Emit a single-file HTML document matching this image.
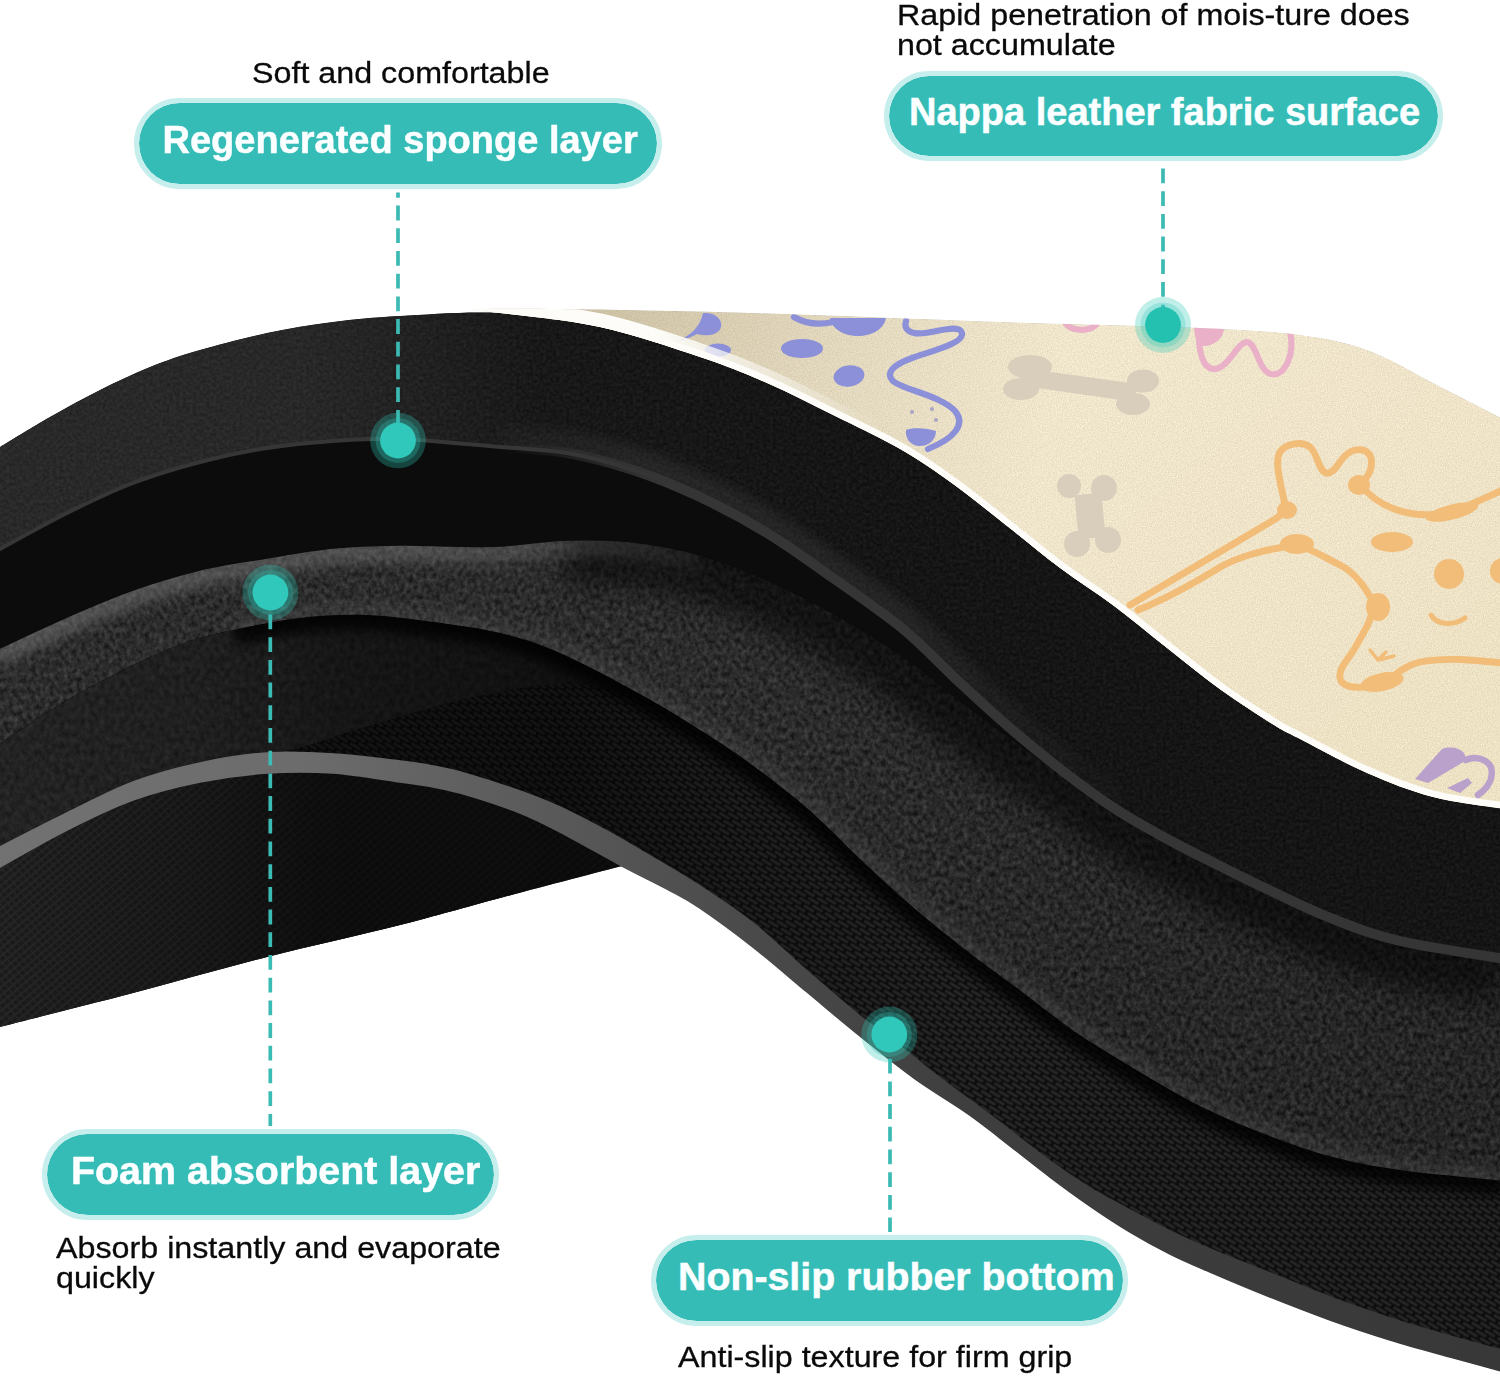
<!DOCTYPE html>
<html><head><meta charset="utf-8"><title>Mat layers</title>
<style>
html,body{margin:0;padding:0;background:#fff;}
body{width:1500px;height:1377px;position:relative;overflow:hidden;font-family:"Liberation Sans",sans-serif;}
svg{position:absolute;left:0;top:0;}
.pill{position:absolute;box-sizing:border-box;background:#35bcb6;border:5px solid #c6eeec;border-radius:50px;background-clip:padding-box;}
.pill span{position:absolute;left:0;top:0;white-space:nowrap;color:#fbffff;font-weight:bold;font-size:38px;line-height:38px;transform-origin:0 0;-webkit-text-stroke:0.5px #fbffff;}
.sub{position:absolute;white-space:nowrap;color:#0a0a0a;font-size:30px;line-height:30px;transform-origin:0 0;transform:scaleX(1.075);-webkit-text-stroke:0.3px #0a0a0a;}
</style></head><body>
<svg width="1500" height="1377" viewBox="0 0 1500 1377">
<defs>
  <filter id="nFoam" color-interpolation-filters="sRGB" x="0" y="0" width="100%" height="100%">
    <feTurbulence type="fractalNoise" baseFrequency="0.22 0.18" numOctaves="3" seed="7"/>
    <feColorMatrix type="matrix" values="1 0 0 0 0  1 0 0 0 0  1 0 0 0 0  0 0 0 0 1" result="g"/>
    <feComposite in="SourceGraphic" in2="g" operator="arithmetic" k1="0" k2="1" k3="0.26" k4="-0.125" result="m"/>
    <feComposite in="m" in2="SourceGraphic" operator="in"/>
  </filter>
  <filter id="nFoam2" color-interpolation-filters="sRGB" x="0" y="0" width="100%" height="100%">
    <feTurbulence type="fractalNoise" baseFrequency="0.2 0.16" numOctaves="3" seed="21"/>
    <feColorMatrix type="matrix" values="1 0 0 0 0  1 0 0 0 0  1 0 0 0 0  0 0 0 0 1" result="g"/>
    <feComposite in="SourceGraphic" in2="g" operator="arithmetic" k1="0.9" k2="0.55" k3="0" k4="0" result="m"/>
    <feComposite in="m" in2="SourceGraphic" operator="in"/>
  </filter>
  <filter id="nFine" color-interpolation-filters="sRGB" x="0" y="0" width="100%" height="100%">
    <feTurbulence type="fractalNoise" baseFrequency="0.8" numOctaves="2" seed="3"/>
    <feColorMatrix type="matrix" values="1 0 0 0 0  1 0 0 0 0  1 0 0 0 0  0 0 0 0 1" result="g"/>
    <feComposite in="SourceGraphic" in2="g" operator="arithmetic" k1="0" k2="1" k3="0.16" k4="-0.08" result="m"/>
    <feComposite in="m" in2="SourceGraphic" operator="in"/>
  </filter>
  <filter id="nSoft" color-interpolation-filters="sRGB" x="0" y="0" width="100%" height="100%">
    <feTurbulence type="fractalNoise" baseFrequency="0.3" numOctaves="2" seed="11"/>
    <feColorMatrix type="matrix" values="1 0 0 0 0  1 0 0 0 0  1 0 0 0 0  0 0 0 0 1" result="g"/>
    <feComposite in="SourceGraphic" in2="g" operator="arithmetic" k1="0" k2="1" k3="0.10" k4="-0.05" result="m"/>
    <feComposite in="m" in2="SourceGraphic" operator="in"/>
  </filter>
  <filter id="blur6" x="-20%" y="-20%" width="140%" height="140%"><feGaussianBlur stdDeviation="6"/></filter>
  <filter id="blur14" x="-30%" y="-30%" width="160%" height="160%"><feGaussianBlur stdDeviation="14"/></filter>
  <filter id="blur1"><feGaussianBlur stdDeviation="0.7"/></filter>
  <linearGradient id="gSponge" gradientUnits="userSpaceOnUse" x1="0" y1="0" x2="1500" y2="0">
    <stop offset="0" stop-color="#292929"/><stop offset="0.2" stop-color="#282828"/><stop offset="0.28" stop-color="#212121"/><stop offset="0.36" stop-color="#181818"/><stop offset="0.6" stop-color="#151515"/><stop offset="1" stop-color="#151515"/>
  </linearGradient>
  <linearGradient id="gFoam" gradientUnits="userSpaceOnUse" x1="0" y1="600" x2="1500" y2="1100">
    <stop offset="0" stop-color="#2b2b2b"/><stop offset="0.3" stop-color="#2b2b2b"/><stop offset="0.5" stop-color="#2a2a2a"/><stop offset="0.75" stop-color="#262626"/><stop offset="1" stop-color="#242424"/>
  </linearGradient>
  <linearGradient id="gFoamUnder" gradientUnits="userSpaceOnUse" x1="0" y1="0" x2="800" y2="0">
    <stop offset="0" stop-color="#232323"/><stop offset="0.25" stop-color="#1f1f1f"/><stop offset="0.42" stop-color="#161616"/><stop offset="0.7" stop-color="#101010"/><stop offset="1" stop-color="#0e0e0e"/>
  </linearGradient>
  <linearGradient id="gRibShade" gradientUnits="userSpaceOnUse" x1="300" y1="0" x2="1500" y2="0">
    <stop offset="0" stop-color="#000" stop-opacity="0.55"/><stop offset="0.22" stop-color="#000" stop-opacity="0.55"/><stop offset="0.36" stop-color="#000" stop-opacity="0.3"/><stop offset="0.55" stop-color="#000" stop-opacity="0.12"/><stop offset="1" stop-color="#000" stop-opacity="0.15"/>
  </linearGradient>
  <linearGradient id="gUnder" gradientUnits="userSpaceOnUse" x1="0" y1="0" x2="640" y2="0">
    <stop offset="0" stop-color="#000" stop-opacity="0.05"/><stop offset="0.3" stop-color="#000" stop-opacity="0.3"/><stop offset="0.5" stop-color="#000" stop-opacity="0.6"/><stop offset="1" stop-color="#000" stop-opacity="0.65"/>
  </linearGradient>
  <linearGradient id="gHl" gradientUnits="userSpaceOnUse" x1="500" y1="0" x2="660" y2="0">
    <stop offset="0" stop-color="#383838" stop-opacity="0"/><stop offset="1" stop-color="#353535" stop-opacity="1"/>
  </linearGradient>
  <linearGradient id="gCreamShade" gradientUnits="userSpaceOnUse" x1="560" y1="300" x2="1050" y2="420">
    <stop offset="0" stop-color="#6e5a32" stop-opacity="0.3"/><stop offset="0.5" stop-color="#6e5a32" stop-opacity="0.13"/><stop offset="1" stop-color="#6e5a32" stop-opacity="0"/>
  </linearGradient>
  <linearGradient id="gFoamHl" gradientUnits="userSpaceOnUse" x1="0" y1="0" x2="760" y2="0">
    <stop offset="0" stop-color="#8a8a8a" stop-opacity="0.4"/><stop offset="0.55" stop-color="#8a8a8a" stop-opacity="0.36"/><stop offset="0.8" stop-color="#8a8a8a" stop-opacity="0.2"/><stop offset="1" stop-color="#8a8a8a" stop-opacity="0"/>
  </linearGradient>
  <linearGradient id="gGlow" gradientUnits="userSpaceOnUse" x1="450" y1="0" x2="1150" y2="0">
    <stop offset="0" stop-color="#4a4a4a" stop-opacity="0.05"/><stop offset="0.3" stop-color="#4a4a4a" stop-opacity="0.3"/><stop offset="0.65" stop-color="#4a4a4a" stop-opacity="0.28"/><stop offset="1" stop-color="#4a4a4a" stop-opacity="0"/>
  </linearGradient>
  <linearGradient id="gWedge" gradientUnits="userSpaceOnUse" x1="500" y1="0" x2="880" y2="0">
    <stop offset="0" stop-color="#fdfcf8" stop-opacity="1"/><stop offset="0.4" stop-color="#fdfcf8" stop-opacity="1"/><stop offset="0.75" stop-color="#fdfcf8" stop-opacity="0.45"/><stop offset="1" stop-color="#fdfcf8" stop-opacity="0"/>
  </linearGradient>
  <linearGradient id="gBand" gradientUnits="userSpaceOnUse" x1="0" y1="0" x2="1500" y2="0">
    <stop offset="0" stop-color="#727272"/><stop offset="0.2" stop-color="#6c6c6c"/><stop offset="0.36" stop-color="#5a5a5a"/><stop offset="0.5" stop-color="#4a4a4a"/><stop offset="0.65" stop-color="#3e3e3e"/><stop offset="1" stop-color="#383838"/>
  </linearGradient>
  <linearGradient id="gCream" gradientUnits="userSpaceOnUse" x1="900" y1="300" x2="1300" y2="800">
    <stop offset="0" stop-color="#f1e8cf"/><stop offset="1" stop-color="#eee2c5"/>
  </linearGradient>
  <pattern id="rib" width="15" height="9" patternUnits="userSpaceOnUse" patternTransform="rotate(31)">
    <rect width="15" height="9" fill="#0f0f0f"/>
    <path d="M1.5 2.2 L11 2.2 M9 6.7 L18.5 6.7 M-6 6.7 L3.5 6.7" stroke="#2b2b2b" stroke-width="2.9" stroke-linecap="round"/>
  </pattern>
  <pattern id="rib2" width="7" height="4" patternUnits="userSpaceOnUse" patternTransform="rotate(-32)">
    <rect width="7" height="4" fill="#151515"/>
    <path d="M0.5 2 L5.5 2" stroke="#262626" stroke-width="1.6" stroke-linecap="round"/>
  </pattern>
  <pattern id="hatch" width="6" height="6" patternUnits="userSpaceOnUse" patternTransform="rotate(-40)">
    <rect width="6" height="6" fill="#1c1c1c"/>
    <path d="M0 1 H6" stroke="#2b2b2b" stroke-width="1.5"/><path d="M1 0 V6" stroke="#282828" stroke-width="1.3"/>
  </pattern>
  <clipPath id="cCream"><path d="M470.0 309.0C485.0 309.0 513.3 308.3 560.0 309.0C606.7 309.7 676.7 310.8 750.0 313.0C823.3 315.2 925.0 319.5 1000.0 322.0C1075.0 324.5 1150.0 325.8 1200.0 328.0C1250.0 330.2 1272.2 331.3 1300.0 335.0C1327.8 338.7 1344.8 342.0 1367.0 350.0C1389.2 358.0 1410.0 371.3 1433.0 383.0C1456.0 394.7 1493.0 413.8 1505.0 420.0L1505.0 809.0C1493.0 807.0 1456.0 803.0 1433.0 797.0C1410.0 791.0 1389.2 782.7 1367.0 773.0C1344.8 763.3 1315.5 747.0 1300.0 739.0C1284.5 731.0 1287.2 733.2 1274.0 725.0C1260.8 716.8 1238.8 702.8 1221.0 690.0C1203.2 677.2 1184.8 662.0 1167.0 648.0C1149.2 634.0 1131.8 619.3 1114.0 606.0C1096.2 592.7 1077.8 581.3 1060.0 568.0C1042.2 554.7 1024.8 540.0 1007.0 526.0C989.2 512.0 970.8 496.8 953.0 484.0C935.2 471.2 920.0 460.5 900.0 449.0C880.0 437.5 855.2 426.0 833.0 415.0C810.8 404.0 789.2 392.7 767.0 383.0C744.8 373.3 727.8 366.3 700.0 357.0C672.2 347.7 633.3 334.3 600.0 327.0C566.7 319.7 521.7 315.7 500.0 313.0C478.3 310.3 475.0 311.3 470.0 311.0Z"/></clipPath>
  <clipPath id="cBelow"><path d="M-5.0 746.0C-4.2 745.5 -12.0 750.7 0.0 743.0C12.0 735.3 44.8 713.0 67.0 700.0C89.2 687.0 113.0 674.7 133.0 665.0C153.0 655.3 170.3 647.8 187.0 642.0C203.7 636.2 214.2 634.0 233.0 630.0C251.8 626.0 277.7 620.5 300.0 618.0C322.3 615.5 344.8 614.3 367.0 615.0C389.2 615.7 410.8 619.0 433.0 622.0C455.2 625.0 478.8 627.8 500.0 633.0C521.2 638.2 536.7 642.8 560.0 653.0C583.3 663.2 616.7 681.2 640.0 694.0C663.3 706.8 682.0 718.7 700.0 730.0C718.0 741.3 730.2 749.0 748.0 762.0C765.8 775.0 788.3 791.8 807.0 808.0C825.7 824.2 842.2 842.3 860.0 859.0C877.8 875.7 896.2 892.7 914.0 908.0C931.8 923.3 949.2 937.2 967.0 951.0C984.8 964.8 1003.2 977.7 1021.0 991.0C1038.8 1004.3 1055.3 1018.2 1074.0 1031.0C1092.7 1043.8 1112.0 1055.5 1133.0 1068.0C1154.0 1080.5 1177.7 1094.8 1200.0 1106.0C1222.3 1117.2 1244.8 1126.5 1267.0 1135.0C1289.2 1143.5 1310.8 1151.2 1333.0 1157.0C1355.2 1162.8 1371.3 1166.0 1400.0 1170.0C1428.7 1174.0 1487.5 1179.2 1505.0 1181.0L1505.0 1351.0C1495.8 1348.5 1469.2 1341.5 1450.0 1336.0C1430.8 1330.5 1410.0 1324.5 1390.0 1318.0C1370.0 1311.5 1350.0 1304.5 1330.0 1297.0C1310.0 1289.5 1290.0 1281.0 1270.0 1273.0C1250.0 1265.0 1226.7 1256.0 1210.0 1249.0C1193.3 1242.0 1183.3 1237.5 1170.0 1231.0C1156.7 1224.5 1143.3 1217.2 1130.0 1210.0C1116.7 1202.8 1103.3 1196.2 1090.0 1188.0C1076.7 1179.8 1066.0 1172.7 1050.0 1161.0C1034.0 1149.3 1012.3 1131.8 994.0 1118.0C975.7 1104.2 954.0 1088.7 940.0 1078.0C926.0 1067.3 923.3 1064.3 910.0 1054.0C896.7 1043.7 877.2 1029.8 860.0 1016.0C842.8 1002.2 824.8 986.5 807.0 971.0C789.2 955.5 770.8 937.2 753.0 923.0C735.2 908.8 718.8 898.2 700.0 886.0C681.2 873.8 655.5 859.2 640.0 850.0C624.5 840.8 620.3 838.2 607.0 831.0C593.7 823.8 574.5 813.7 560.0 807.0C545.5 800.3 535.5 796.5 520.0 791.0C504.5 785.5 481.5 778.2 467.0 774.0C452.5 769.8 444.2 768.2 433.0 766.0C421.8 763.8 416.7 763.0 400.0 761.0C383.3 759.0 355.2 755.3 333.0 754.0C310.8 752.7 289.2 751.5 267.0 753.0C244.8 754.5 222.3 758.2 200.0 763.0C177.7 767.8 155.2 773.7 133.0 782.0C110.8 790.3 89.2 802.2 67.0 813.0C44.8 823.8 12.0 840.8 0.0 847.0C-12.0 853.2 -4.2 849.5 -5.0 850.0Z"/></clipPath>
  <clipPath id="cFoam"><path d="M-5.0 651.0C-4.2 650.5 -12.0 653.7 0.0 648.0C12.0 642.3 44.8 626.7 67.0 617.0C89.2 607.3 110.8 597.8 133.0 590.0C155.2 582.2 177.7 575.3 200.0 570.0C222.3 564.7 244.8 561.7 267.0 558.0C289.2 554.3 310.8 550.2 333.0 548.0C355.2 545.8 380.5 545.3 400.0 545.0C419.5 544.7 433.3 545.8 450.0 546.0C466.7 546.2 480.5 547.0 500.0 546.0C519.5 545.0 544.8 540.7 567.0 540.0C589.2 539.3 610.8 539.5 633.0 542.0C655.2 544.5 677.7 548.7 700.0 555.0C722.3 561.3 744.8 570.3 767.0 580.0C789.2 589.7 810.8 600.7 833.0 613.0C855.2 625.3 879.3 639.8 900.0 654.0C920.7 668.2 938.7 684.0 957.0 698.0C975.3 712.0 992.2 725.7 1010.0 738.0C1027.8 750.3 1046.2 760.0 1064.0 772.0C1081.8 784.0 1099.2 798.5 1117.0 810.0C1134.8 821.5 1153.2 831.3 1171.0 841.0C1188.8 850.7 1208.0 860.0 1224.0 868.0C1240.0 876.0 1248.8 880.5 1267.0 889.0C1285.2 897.5 1310.8 910.3 1333.0 919.0C1355.2 927.7 1371.3 934.3 1400.0 941.0C1428.7 947.7 1487.5 956.0 1505.0 959.0L1505.0 1181.0C1487.5 1179.2 1428.7 1174.0 1400.0 1170.0C1371.3 1166.0 1355.2 1162.8 1333.0 1157.0C1310.8 1151.2 1289.2 1143.5 1267.0 1135.0C1244.8 1126.5 1222.3 1117.2 1200.0 1106.0C1177.7 1094.8 1154.0 1080.5 1133.0 1068.0C1112.0 1055.5 1092.7 1043.8 1074.0 1031.0C1055.3 1018.2 1038.8 1004.3 1021.0 991.0C1003.2 977.7 984.8 964.8 967.0 951.0C949.2 937.2 931.8 923.3 914.0 908.0C896.2 892.7 877.8 875.7 860.0 859.0C842.2 842.3 825.7 824.2 807.0 808.0C788.3 791.8 765.8 775.0 748.0 762.0C730.2 749.0 718.0 741.3 700.0 730.0C682.0 718.7 663.3 706.8 640.0 694.0C616.7 681.2 583.3 663.2 560.0 653.0C536.7 642.8 521.2 638.2 500.0 633.0C478.8 627.8 455.2 625.0 433.0 622.0C410.8 619.0 389.2 615.7 367.0 615.0C344.8 614.3 322.3 615.5 300.0 618.0C277.7 620.5 251.8 626.0 233.0 630.0C214.2 634.0 203.7 636.2 187.0 642.0C170.3 647.8 153.0 655.3 133.0 665.0C113.0 674.7 89.2 687.0 67.0 700.0C44.8 713.0 12.0 735.3 0.0 743.0C-12.0 750.7 -4.2 745.5 -5.0 746.0Z"/></clipPath>
  <clipPath id="cSponge"><path d="M-5.0 450.0C-4.2 449.5 -9.2 452.5 0.0 447.0C9.2 441.5 33.3 426.5 50.0 417.0C66.7 407.5 83.3 398.3 100.0 390.0C116.7 381.7 133.3 373.7 150.0 367.0C166.7 360.3 180.5 355.7 200.0 350.0C219.5 344.3 244.8 337.7 267.0 333.0C289.2 328.3 310.8 324.8 333.0 322.0C355.2 319.2 372.2 317.5 400.0 316.0C427.8 314.5 466.7 311.2 500.0 313.0C533.3 314.8 566.7 319.7 600.0 327.0C633.3 334.3 672.2 347.7 700.0 357.0C727.8 366.3 744.8 373.3 767.0 383.0C789.2 392.7 810.8 404.0 833.0 415.0C855.2 426.0 880.0 437.5 900.0 449.0C920.0 460.5 935.2 471.2 953.0 484.0C970.8 496.8 989.2 512.0 1007.0 526.0C1024.8 540.0 1042.2 554.7 1060.0 568.0C1077.8 581.3 1096.2 592.7 1114.0 606.0C1131.8 619.3 1149.2 634.0 1167.0 648.0C1184.8 662.0 1203.2 677.2 1221.0 690.0C1238.8 702.8 1260.8 716.8 1274.0 725.0C1287.2 733.2 1284.5 731.0 1300.0 739.0C1315.5 747.0 1344.8 763.3 1367.0 773.0C1389.2 782.7 1410.0 791.0 1433.0 797.0C1456.0 803.0 1493.0 807.0 1505.0 809.0L1505.0 959.0C1487.5 956.0 1428.7 947.7 1400.0 941.0C1371.3 934.3 1355.2 927.7 1333.0 919.0C1310.8 910.3 1285.2 897.5 1267.0 889.0C1248.8 880.5 1240.0 876.0 1224.0 868.0C1208.0 860.0 1188.8 850.7 1171.0 841.0C1153.2 831.3 1134.8 821.5 1117.0 810.0C1099.2 798.5 1081.8 785.7 1064.0 772.0C1046.2 758.3 1027.8 743.3 1010.0 728.0C992.2 712.7 974.8 696.5 957.0 680.0C939.2 663.5 923.7 646.0 903.0 629.0C882.3 612.0 855.7 594.0 833.0 578.0C810.3 562.0 789.2 546.5 767.0 533.0C744.8 519.5 722.3 507.5 700.0 497.0C677.7 486.5 655.2 477.3 633.0 470.0C610.8 462.7 589.2 456.8 567.0 453.0C544.8 449.2 527.8 449.3 500.0 447.0C472.2 444.7 427.8 440.0 400.0 439.0C372.2 438.0 355.2 439.5 333.0 441.0C310.8 442.5 289.2 444.5 267.0 448.0C244.8 451.5 222.3 456.2 200.0 462.0C177.7 467.8 155.2 474.5 133.0 483.0C110.8 491.5 89.2 502.0 67.0 513.0C44.8 524.0 12.0 542.5 0.0 549.0C-12.0 555.5 -4.2 551.5 -5.0 552.0Z"/></clipPath>
</defs>

<path d="M-5.0 450.0C-4.2 449.5 -9.2 452.5 0.0 447.0C9.2 441.5 33.3 426.5 50.0 417.0C66.7 407.5 83.3 398.3 100.0 390.0C116.7 381.7 133.3 373.7 150.0 367.0C166.7 360.3 180.5 355.7 200.0 350.0C219.5 344.3 244.8 337.7 267.0 333.0C289.2 328.3 310.8 324.8 333.0 322.0C355.2 319.2 372.2 317.5 400.0 316.0C427.8 314.5 466.7 311.2 500.0 313.0C533.3 314.8 566.7 319.7 600.0 327.0C633.3 334.3 672.2 347.7 700.0 357.0C727.8 366.3 744.8 373.3 767.0 383.0C789.2 392.7 810.8 404.0 833.0 415.0C855.2 426.0 880.0 437.5 900.0 449.0C920.0 460.5 935.2 471.2 953.0 484.0C970.8 496.8 989.2 512.0 1007.0 526.0C1024.8 540.0 1042.2 554.7 1060.0 568.0C1077.8 581.3 1096.2 592.7 1114.0 606.0C1131.8 619.3 1149.2 634.0 1167.0 648.0C1184.8 662.0 1203.2 677.2 1221.0 690.0C1238.8 702.8 1260.8 716.8 1274.0 725.0C1287.2 733.2 1284.5 731.0 1300.0 739.0C1315.5 747.0 1344.8 763.3 1367.0 773.0C1389.2 782.7 1410.0 791.0 1433.0 797.0C1456.0 803.0 1493.0 807.0 1505.0 809.0L1505.0 1372.0C1495.8 1369.5 1469.2 1362.3 1450.0 1357.0C1430.8 1351.7 1410.0 1346.2 1390.0 1340.0C1370.0 1333.8 1350.0 1327.2 1330.0 1320.0C1310.0 1312.8 1290.0 1305.0 1270.0 1297.0C1250.0 1289.0 1226.7 1279.2 1210.0 1272.0C1193.3 1264.8 1183.3 1260.7 1170.0 1254.0C1156.7 1247.3 1143.3 1240.0 1130.0 1232.0C1116.7 1224.0 1103.3 1215.2 1090.0 1206.0C1076.7 1196.8 1065.0 1188.3 1050.0 1177.0C1035.0 1165.7 1013.8 1148.7 1000.0 1138.0C986.2 1127.3 981.3 1123.0 967.0 1113.0C952.7 1103.0 931.8 1090.8 914.0 1078.0C896.2 1065.2 877.8 1050.3 860.0 1036.0C842.2 1021.7 824.8 1006.8 807.0 992.0C789.2 977.2 770.8 961.0 753.0 947.0C735.2 933.0 714.3 917.7 700.0 908.0C685.7 898.3 680.0 896.0 667.0 889.0C654.0 882.0 649.8 864.5 622.0 866.0C594.2 867.5 537.0 888.2 500.0 898.0C463.0 907.8 438.8 915.2 400.0 925.0C361.2 934.8 311.5 945.7 267.0 957.0C222.5 968.3 177.5 981.3 133.0 993.0C88.5 1004.7 23.0 1021.0 0.0 1027.0C-23.0 1033.0 -4.2 1028.7 -5.0 1029.0Z" fill="#181818"/>
<!-- rubber underside (left bottom) -->
<path d="M-5.0 870.0C-4.2 869.5 -12.0 873.7 0.0 867.0C12.0 860.3 44.8 841.2 67.0 830.0C89.2 818.8 110.8 808.0 133.0 800.0C155.2 792.0 177.7 786.5 200.0 782.0C222.3 777.5 244.8 774.5 267.0 773.0C289.2 771.5 310.8 771.5 333.0 773.0C355.2 774.5 383.3 779.7 400.0 782.0C416.7 784.3 421.8 784.8 433.0 787.0C444.2 789.2 452.5 790.7 467.0 795.0C481.5 799.3 504.5 806.8 520.0 813.0C535.5 819.2 543.0 823.2 560.0 832.0C577.0 840.8 611.7 860.3 622.0 866.0L622.0 866.0C601.7 871.3 537.0 888.2 500.0 898.0C463.0 907.8 438.8 915.2 400.0 925.0C361.2 934.8 311.5 945.7 267.0 957.0C222.5 968.3 177.5 981.3 133.0 993.0C88.5 1004.7 23.0 1021.0 0.0 1027.0C-23.0 1033.0 -4.2 1028.7 -5.0 1029.0Z" fill="url(#hatch)"/>
<path d="M-5.0 870.0C-4.2 869.5 -12.0 873.7 0.0 867.0C12.0 860.3 44.8 841.2 67.0 830.0C89.2 818.8 110.8 808.0 133.0 800.0C155.2 792.0 177.7 786.5 200.0 782.0C222.3 777.5 244.8 774.5 267.0 773.0C289.2 771.5 310.8 771.5 333.0 773.0C355.2 774.5 383.3 779.7 400.0 782.0C416.7 784.3 421.8 784.8 433.0 787.0C444.2 789.2 452.5 790.7 467.0 795.0C481.5 799.3 504.5 806.8 520.0 813.0C535.5 819.2 543.0 823.2 560.0 832.0C577.0 840.8 611.7 860.3 622.0 866.0L622.0 866.0C601.7 871.3 537.0 888.2 500.0 898.0C463.0 907.8 438.8 915.2 400.0 925.0C361.2 934.8 311.5 945.7 267.0 957.0C222.5 968.3 177.5 981.3 133.0 993.0C88.5 1004.7 23.0 1021.0 0.0 1027.0C-23.0 1033.0 -4.2 1028.7 -5.0 1029.0Z" fill="url(#gUnder)"/>
<!-- area between foam and rubber band: foam underside + ribbed rubber top -->
<g clip-path="url(#cBelow)">
  <path d="M-5.0 746.0C-4.2 745.5 -12.0 750.7 0.0 743.0C12.0 735.3 44.8 713.0 67.0 700.0C89.2 687.0 113.0 674.7 133.0 665.0C153.0 655.3 170.3 647.8 187.0 642.0C203.7 636.2 214.2 634.0 233.0 630.0C251.8 626.0 277.7 620.5 300.0 618.0C322.3 615.5 344.8 614.3 367.0 615.0C389.2 615.7 410.8 619.0 433.0 622.0C455.2 625.0 478.8 627.8 500.0 633.0C521.2 638.2 536.7 642.8 560.0 653.0C583.3 663.2 616.7 681.2 640.0 694.0C663.3 706.8 682.0 718.7 700.0 730.0C718.0 741.3 730.2 749.0 748.0 762.0C765.8 775.0 788.3 791.8 807.0 808.0C825.7 824.2 842.2 842.3 860.0 859.0C877.8 875.7 896.2 892.7 914.0 908.0C931.8 923.3 949.2 937.2 967.0 951.0C984.8 964.8 1003.2 977.7 1021.0 991.0C1038.8 1004.3 1055.3 1018.2 1074.0 1031.0C1092.7 1043.8 1112.0 1055.5 1133.0 1068.0C1154.0 1080.5 1177.7 1094.8 1200.0 1106.0C1222.3 1117.2 1244.8 1126.5 1267.0 1135.0C1289.2 1143.5 1310.8 1151.2 1333.0 1157.0C1355.2 1162.8 1371.3 1166.0 1400.0 1170.0C1428.7 1174.0 1487.5 1179.2 1505.0 1181.0L1505.0 1351.0C1495.8 1348.5 1469.2 1341.5 1450.0 1336.0C1430.8 1330.5 1410.0 1324.5 1390.0 1318.0C1370.0 1311.5 1350.0 1304.5 1330.0 1297.0C1310.0 1289.5 1290.0 1281.0 1270.0 1273.0C1250.0 1265.0 1226.7 1256.0 1210.0 1249.0C1193.3 1242.0 1183.3 1237.5 1170.0 1231.0C1156.7 1224.5 1143.3 1217.2 1130.0 1210.0C1116.7 1202.8 1103.3 1196.2 1090.0 1188.0C1076.7 1179.8 1066.0 1172.7 1050.0 1161.0C1034.0 1149.3 1012.3 1131.8 994.0 1118.0C975.7 1104.2 954.0 1088.7 940.0 1078.0C926.0 1067.3 923.3 1064.3 910.0 1054.0C896.7 1043.7 877.2 1029.8 860.0 1016.0C842.8 1002.2 824.8 986.5 807.0 971.0C789.2 955.5 770.8 937.2 753.0 923.0C735.2 908.8 718.8 898.2 700.0 886.0C681.2 873.8 655.5 859.2 640.0 850.0C624.5 840.8 620.3 838.2 607.0 831.0C593.7 823.8 574.5 813.7 560.0 807.0C545.5 800.3 535.5 796.5 520.0 791.0C504.5 785.5 481.5 778.2 467.0 774.0C452.5 769.8 444.2 768.2 433.0 766.0C421.8 763.8 416.7 763.0 400.0 761.0C383.3 759.0 355.2 755.3 333.0 754.0C310.8 752.7 289.2 751.5 267.0 753.0C244.8 754.5 222.3 758.2 200.0 763.0C177.7 767.8 155.2 773.7 133.0 782.0C110.8 790.3 89.2 802.2 67.0 813.0C44.8 823.8 12.0 840.8 0.0 847.0C-12.0 853.2 -4.2 849.5 -5.0 850.0Z" fill="url(#rib)"/>
  <path d="M-5.0 746.0C-4.2 745.5 -12.0 750.7 0.0 743.0C12.0 735.3 44.8 713.0 67.0 700.0C89.2 687.0 113.0 674.7 133.0 665.0C153.0 655.3 170.3 647.8 187.0 642.0C203.7 636.2 214.2 634.0 233.0 630.0C251.8 626.0 277.7 620.5 300.0 618.0C322.3 615.5 344.8 614.3 367.0 615.0C389.2 615.7 410.8 619.0 433.0 622.0C455.2 625.0 478.8 627.8 500.0 633.0C521.2 638.2 536.7 642.8 560.0 653.0C583.3 663.2 616.7 681.2 640.0 694.0C663.3 706.8 682.0 718.7 700.0 730.0C718.0 741.3 730.2 749.0 748.0 762.0C765.8 775.0 788.3 791.8 807.0 808.0C825.7 824.2 842.2 842.3 860.0 859.0C877.8 875.7 896.2 892.7 914.0 908.0C931.8 923.3 949.2 937.2 967.0 951.0C984.8 964.8 1003.2 977.7 1021.0 991.0C1038.8 1004.3 1055.3 1018.2 1074.0 1031.0C1092.7 1043.8 1112.0 1055.5 1133.0 1068.0C1154.0 1080.5 1177.7 1094.8 1200.0 1106.0C1222.3 1117.2 1244.8 1126.5 1267.0 1135.0C1289.2 1143.5 1310.8 1151.2 1333.0 1157.0C1355.2 1162.8 1371.3 1166.0 1400.0 1170.0C1428.7 1174.0 1487.5 1179.2 1505.0 1181.0L1505.0 1351.0C1495.8 1348.5 1469.2 1341.5 1450.0 1336.0C1430.8 1330.5 1410.0 1324.5 1390.0 1318.0C1370.0 1311.5 1350.0 1304.5 1330.0 1297.0C1310.0 1289.5 1290.0 1281.0 1270.0 1273.0C1250.0 1265.0 1226.7 1256.0 1210.0 1249.0C1193.3 1242.0 1183.3 1237.5 1170.0 1231.0C1156.7 1224.5 1143.3 1217.2 1130.0 1210.0C1116.7 1202.8 1103.3 1196.2 1090.0 1188.0C1076.7 1179.8 1066.0 1172.7 1050.0 1161.0C1034.0 1149.3 1012.3 1131.8 994.0 1118.0C975.7 1104.2 954.0 1088.7 940.0 1078.0C926.0 1067.3 923.3 1064.3 910.0 1054.0C896.7 1043.7 877.2 1029.8 860.0 1016.0C842.8 1002.2 824.8 986.5 807.0 971.0C789.2 955.5 770.8 937.2 753.0 923.0C735.2 908.8 718.8 898.2 700.0 886.0C681.2 873.8 655.5 859.2 640.0 850.0C624.5 840.8 620.3 838.2 607.0 831.0C593.7 823.8 574.5 813.7 560.0 807.0C545.5 800.3 535.5 796.5 520.0 791.0C504.5 785.5 481.5 778.2 467.0 774.0C452.5 769.8 444.2 768.2 433.0 766.0C421.8 763.8 416.7 763.0 400.0 761.0C383.3 759.0 355.2 755.3 333.0 754.0C310.8 752.7 289.2 751.5 267.0 753.0C244.8 754.5 222.3 758.2 200.0 763.0C177.7 767.8 155.2 773.7 133.0 782.0C110.8 790.3 89.2 802.2 67.0 813.0C44.8 823.8 12.0 840.8 0.0 847.0C-12.0 853.2 -4.2 849.5 -5.0 850.0Z" fill="url(#gRibShade)"/>
  <!-- foam underside (textured, in shadow) -->
  <path d="M-5.0 746.0C-4.2 745.5 -12.0 750.7 0.0 743.0C12.0 735.3 44.8 713.0 67.0 700.0C89.2 687.0 113.0 674.7 133.0 665.0C153.0 655.3 170.3 647.8 187.0 642.0C203.7 636.2 214.2 634.0 233.0 630.0C251.8 626.0 277.7 620.5 300.0 618.0C322.3 615.5 344.8 614.3 367.0 615.0C389.2 615.7 410.8 619.0 433.0 622.0C455.2 625.0 478.8 627.8 500.0 633.0C521.2 638.2 536.7 642.8 560.0 653.0C583.3 663.2 616.7 681.2 640.0 694.0C663.3 706.8 682.0 718.7 700.0 730.0C718.0 741.3 730.2 749.0 748.0 762.0C765.8 775.0 797.2 800.3 807.0 808.0L807.0 808.0C799.2 802.0 779.0 786.3 760.0 772.0C741.0 757.7 721.8 736.5 693.0 722.0C664.2 707.5 622.5 689.3 587.0 685.0C551.5 680.7 515.7 689.3 480.0 696.0C444.3 702.7 403.2 716.3 373.0 725.0C342.8 733.7 316.7 743.3 299.0 748.0C281.3 752.7 283.5 750.5 267.0 753.0C250.5 755.5 222.3 758.2 200.0 763.0C177.7 767.8 155.2 773.7 133.0 782.0C110.8 790.3 89.2 802.2 67.0 813.0C44.8 823.8 12.0 840.8 0.0 847.0C-12.0 853.2 -4.2 849.5 -5.0 850.0Z" fill="url(#gFoamUnder)" filter="url(#nFoam2)"/>
  <!-- shadow under foam along its lower edge -->
  <path d="M233.0 630.0C244.2 628.0 277.7 620.5 300.0 618.0C322.3 615.5 344.8 614.3 367.0 615.0C389.2 615.7 410.8 619.0 433.0 622.0C455.2 625.0 478.8 627.8 500.0 633.0C521.2 638.2 536.7 642.8 560.0 653.0C583.3 663.2 616.7 681.2 640.0 694.0C663.3 706.8 682.0 718.7 700.0 730.0C718.0 741.3 730.2 749.0 748.0 762.0C765.8 775.0 788.3 791.8 807.0 808.0C825.7 824.2 842.2 842.3 860.0 859.0C877.8 875.7 896.2 892.7 914.0 908.0C931.8 923.3 949.2 937.2 967.0 951.0C984.8 964.8 1003.2 977.7 1021.0 991.0C1038.8 1004.3 1055.3 1018.2 1074.0 1031.0C1092.7 1043.8 1112.0 1055.5 1133.0 1068.0C1154.0 1080.5 1177.7 1094.8 1200.0 1106.0C1222.3 1117.2 1244.8 1126.5 1267.0 1135.0C1289.2 1143.5 1310.8 1151.2 1333.0 1157.0C1355.2 1162.8 1371.3 1166.0 1400.0 1170.0C1428.7 1174.0 1487.5 1179.2 1505.0 1181.0" fill="none" stroke="#040404" stroke-width="30" opacity="0.8" filter="url(#blur6)"/>
</g>
<!-- rubber edge band -->
<path d="M-5.0 850.0C-4.2 849.5 -12.0 853.2 0.0 847.0C12.0 840.8 44.8 823.8 67.0 813.0C89.2 802.2 110.8 790.3 133.0 782.0C155.2 773.7 177.7 767.8 200.0 763.0C222.3 758.2 244.8 754.5 267.0 753.0C289.2 751.5 310.8 752.7 333.0 754.0C355.2 755.3 383.3 759.0 400.0 761.0C416.7 763.0 421.8 763.8 433.0 766.0C444.2 768.2 452.5 769.8 467.0 774.0C481.5 778.2 504.5 785.5 520.0 791.0C535.5 796.5 545.5 800.3 560.0 807.0C574.5 813.7 593.7 823.8 607.0 831.0C620.3 838.2 624.5 840.8 640.0 850.0C655.5 859.2 681.2 873.8 700.0 886.0C718.8 898.2 735.2 908.8 753.0 923.0C770.8 937.2 789.2 955.5 807.0 971.0C824.8 986.5 842.8 1002.2 860.0 1016.0C877.2 1029.8 896.7 1043.7 910.0 1054.0C923.3 1064.3 926.0 1067.3 940.0 1078.0C954.0 1088.7 975.7 1104.2 994.0 1118.0C1012.3 1131.8 1034.0 1149.3 1050.0 1161.0C1066.0 1172.7 1076.7 1179.8 1090.0 1188.0C1103.3 1196.2 1116.7 1202.8 1130.0 1210.0C1143.3 1217.2 1156.7 1224.5 1170.0 1231.0C1183.3 1237.5 1193.3 1242.0 1210.0 1249.0C1226.7 1256.0 1250.0 1265.0 1270.0 1273.0C1290.0 1281.0 1310.0 1289.5 1330.0 1297.0C1350.0 1304.5 1370.0 1311.5 1390.0 1318.0C1410.0 1324.5 1430.8 1330.5 1450.0 1336.0C1469.2 1341.5 1495.8 1348.5 1505.0 1351.0L1505.0 1372.0C1495.8 1369.5 1469.2 1362.3 1450.0 1357.0C1430.8 1351.7 1410.0 1346.2 1390.0 1340.0C1370.0 1333.8 1350.0 1327.2 1330.0 1320.0C1310.0 1312.8 1290.0 1305.0 1270.0 1297.0C1250.0 1289.0 1226.7 1279.2 1210.0 1272.0C1193.3 1264.8 1183.3 1260.7 1170.0 1254.0C1156.7 1247.3 1143.3 1240.0 1130.0 1232.0C1116.7 1224.0 1103.3 1215.2 1090.0 1206.0C1076.7 1196.8 1065.0 1188.3 1050.0 1177.0C1035.0 1165.7 1013.8 1148.7 1000.0 1138.0C986.2 1127.3 981.3 1123.0 967.0 1113.0C952.7 1103.0 931.8 1090.8 914.0 1078.0C896.2 1065.2 877.8 1050.3 860.0 1036.0C842.2 1021.7 824.8 1006.8 807.0 992.0C789.2 977.2 770.8 961.0 753.0 947.0C735.2 933.0 714.3 917.7 700.0 908.0C685.7 898.3 680.0 896.0 667.0 889.0C654.0 882.0 639.8 875.5 622.0 866.0C604.2 856.5 577.0 840.8 560.0 832.0C543.0 823.2 535.5 819.2 520.0 813.0C504.5 806.8 481.5 799.3 467.0 795.0C452.5 790.7 444.2 789.2 433.0 787.0C421.8 784.8 416.7 784.3 400.0 782.0C383.3 779.7 355.2 774.5 333.0 773.0C310.8 771.5 289.2 771.5 267.0 773.0C244.8 774.5 222.3 777.5 200.0 782.0C177.7 786.5 155.2 792.0 133.0 800.0C110.8 808.0 89.2 818.8 67.0 830.0C44.8 841.2 12.0 860.3 0.0 867.0C-12.0 873.7 -4.2 869.5 -5.0 870.0Z" fill="url(#gBand)" stroke="url(#gBand)" stroke-width="1.6" stroke-linejoin="round"/>
<!-- foam face -->
<path d="M-5.0 651.0C-4.2 650.5 -12.0 653.7 0.0 648.0C12.0 642.3 44.8 626.7 67.0 617.0C89.2 607.3 110.8 597.8 133.0 590.0C155.2 582.2 177.7 575.3 200.0 570.0C222.3 564.7 244.8 561.7 267.0 558.0C289.2 554.3 310.8 550.2 333.0 548.0C355.2 545.8 380.5 545.3 400.0 545.0C419.5 544.7 433.3 545.8 450.0 546.0C466.7 546.2 480.5 547.0 500.0 546.0C519.5 545.0 544.8 540.7 567.0 540.0C589.2 539.3 610.8 539.5 633.0 542.0C655.2 544.5 677.7 548.7 700.0 555.0C722.3 561.3 744.8 570.3 767.0 580.0C789.2 589.7 810.8 600.7 833.0 613.0C855.2 625.3 879.3 639.8 900.0 654.0C920.7 668.2 938.7 684.0 957.0 698.0C975.3 712.0 992.2 725.7 1010.0 738.0C1027.8 750.3 1046.2 760.0 1064.0 772.0C1081.8 784.0 1099.2 798.5 1117.0 810.0C1134.8 821.5 1153.2 831.3 1171.0 841.0C1188.8 850.7 1208.0 860.0 1224.0 868.0C1240.0 876.0 1248.8 880.5 1267.0 889.0C1285.2 897.5 1310.8 910.3 1333.0 919.0C1355.2 927.7 1371.3 934.3 1400.0 941.0C1428.7 947.7 1487.5 956.0 1505.0 959.0L1505.0 1181.0C1487.5 1179.2 1428.7 1174.0 1400.0 1170.0C1371.3 1166.0 1355.2 1162.8 1333.0 1157.0C1310.8 1151.2 1289.2 1143.5 1267.0 1135.0C1244.8 1126.5 1222.3 1117.2 1200.0 1106.0C1177.7 1094.8 1154.0 1080.5 1133.0 1068.0C1112.0 1055.5 1092.7 1043.8 1074.0 1031.0C1055.3 1018.2 1038.8 1004.3 1021.0 991.0C1003.2 977.7 984.8 964.8 967.0 951.0C949.2 937.2 931.8 923.3 914.0 908.0C896.2 892.7 877.8 875.7 860.0 859.0C842.2 842.3 825.7 824.2 807.0 808.0C788.3 791.8 765.8 775.0 748.0 762.0C730.2 749.0 718.0 741.3 700.0 730.0C682.0 718.7 663.3 706.8 640.0 694.0C616.7 681.2 583.3 663.2 560.0 653.0C536.7 642.8 521.2 638.2 500.0 633.0C478.8 627.8 455.2 625.0 433.0 622.0C410.8 619.0 389.2 615.7 367.0 615.0C344.8 614.3 322.3 615.5 300.0 618.0C277.7 620.5 251.8 626.0 233.0 630.0C214.2 634.0 203.7 636.2 187.0 642.0C170.3 647.8 153.0 655.3 133.0 665.0C113.0 674.7 89.2 687.0 67.0 700.0C44.8 713.0 12.0 735.3 0.0 743.0C-12.0 750.7 -4.2 745.5 -5.0 746.0Z" fill="url(#gFoam)" filter="url(#nFoam)"/>
<g clip-path="url(#cFoam)">
  <path d="M567.0 540.0C578.0 540.3 610.8 539.5 633.0 542.0C655.2 544.5 677.7 548.7 700.0 555.0C722.3 561.3 744.8 570.3 767.0 580.0C789.2 589.7 810.8 600.7 833.0 613.0C855.2 625.3 879.3 639.8 900.0 654.0C920.7 668.2 938.7 684.0 957.0 698.0C975.3 712.0 992.2 725.7 1010.0 738.0C1027.8 750.3 1046.2 760.0 1064.0 772.0C1081.8 784.0 1099.2 798.5 1117.0 810.0C1134.8 821.5 1153.2 831.3 1171.0 841.0C1188.8 850.7 1208.0 860.0 1224.0 868.0C1240.0 876.0 1248.8 880.5 1267.0 889.0C1285.2 897.5 1310.8 910.3 1333.0 919.0C1355.2 927.7 1371.3 934.3 1400.0 941.0C1428.7 947.7 1487.5 956.0 1505.0 959.0" fill="none" stroke="#060606" stroke-width="90" opacity="0.55" filter="url(#blur14)"/>
  <path d="M-5.0 651.0C-4.2 650.5 -12.0 653.7 0.0 648.0C12.0 642.3 44.8 626.7 67.0 617.0C89.2 607.3 110.8 597.8 133.0 590.0C155.2 582.2 177.7 575.3 200.0 570.0C222.3 564.7 244.8 561.7 267.0 558.0C289.2 554.3 310.8 550.2 333.0 548.0C355.2 545.8 380.5 545.3 400.0 545.0C419.5 544.7 433.3 545.8 450.0 546.0C466.7 546.2 480.5 547.0 500.0 546.0C519.5 545.0 544.8 540.7 567.0 540.0C589.2 539.3 610.8 539.5 633.0 542.0C655.2 544.5 688.8 552.8 700.0 555.0" fill="none" stroke="url(#gFoamHl)" stroke-width="34" filter="url(#blur6)"/>
  <path d="M233.0 630.0C244.2 628.0 277.7 620.5 300.0 618.0C322.3 615.5 344.8 614.3 367.0 615.0C389.2 615.7 410.8 619.0 433.0 622.0C455.2 625.0 478.8 627.8 500.0 633.0C521.2 638.2 536.7 642.8 560.0 653.0C583.3 663.2 616.7 681.2 640.0 694.0C663.3 706.8 682.0 718.7 700.0 730.0C718.0 741.3 730.2 749.0 748.0 762.0C765.8 775.0 788.3 791.8 807.0 808.0C825.7 824.2 842.2 842.3 860.0 859.0C877.8 875.7 896.2 892.7 914.0 908.0C931.8 923.3 949.2 937.2 967.0 951.0C984.8 964.8 1003.2 977.7 1021.0 991.0C1038.8 1004.3 1055.3 1018.2 1074.0 1031.0C1092.7 1043.8 1112.0 1055.5 1133.0 1068.0C1154.0 1080.5 1177.7 1094.8 1200.0 1106.0C1222.3 1117.2 1244.8 1126.5 1267.0 1135.0C1289.2 1143.5 1310.8 1151.2 1333.0 1157.0C1355.2 1162.8 1371.3 1166.0 1400.0 1170.0C1428.7 1174.0 1487.5 1179.2 1505.0 1181.0" fill="none" stroke="#777" stroke-width="26" opacity="0.16" filter="url(#blur6)"/>
</g>
<!-- sponge underside -->
<path d="M-5.0 552.0C-4.2 551.5 -12.0 555.5 0.0 549.0C12.0 542.5 44.8 524.0 67.0 513.0C89.2 502.0 110.8 491.5 133.0 483.0C155.2 474.5 177.7 467.8 200.0 462.0C222.3 456.2 244.8 451.5 267.0 448.0C289.2 444.5 310.8 442.5 333.0 441.0C355.2 439.5 372.2 438.0 400.0 439.0C427.8 440.0 472.2 444.7 500.0 447.0C527.8 449.3 544.8 449.2 567.0 453.0C589.2 456.8 610.8 462.7 633.0 470.0C655.2 477.3 677.7 486.5 700.0 497.0C722.3 507.5 744.8 519.5 767.0 533.0C789.2 546.5 810.3 562.0 833.0 578.0C855.7 594.0 882.3 612.0 903.0 629.0C923.7 646.0 939.2 663.5 957.0 680.0C974.8 696.5 992.2 712.7 1010.0 728.0C1027.8 743.3 1055.0 764.7 1064.0 772.0L1064.0 776.0C1055.0 769.7 1027.8 751.0 1010.0 738.0C992.2 725.0 975.3 712.0 957.0 698.0C938.7 684.0 920.7 668.2 900.0 654.0C879.3 639.8 855.2 625.3 833.0 613.0C810.8 600.7 789.2 589.7 767.0 580.0C744.8 570.3 722.3 561.3 700.0 555.0C677.7 548.7 655.2 544.5 633.0 542.0C610.8 539.5 589.2 539.3 567.0 540.0C544.8 540.7 519.5 545.0 500.0 546.0C480.5 547.0 466.7 546.2 450.0 546.0C433.3 545.8 419.5 544.7 400.0 545.0C380.5 545.3 355.2 545.8 333.0 548.0C310.8 550.2 289.2 554.3 267.0 558.0C244.8 561.7 222.3 564.7 200.0 570.0C177.7 575.3 155.2 582.2 133.0 590.0C110.8 597.8 89.2 607.3 67.0 617.0C44.8 626.7 12.0 642.3 0.0 648.0C-12.0 653.7 -4.2 650.5 -5.0 651.0Z" fill="#0c0c0c" stroke="#0c0c0c" stroke-width="1.5"/>
<!-- sponge face -->
<path d="M-5.0 450.0C-4.2 449.5 -9.2 452.5 0.0 447.0C9.2 441.5 33.3 426.5 50.0 417.0C66.7 407.5 83.3 398.3 100.0 390.0C116.7 381.7 133.3 373.7 150.0 367.0C166.7 360.3 180.5 355.7 200.0 350.0C219.5 344.3 244.8 337.7 267.0 333.0C289.2 328.3 310.8 324.8 333.0 322.0C355.2 319.2 372.2 317.5 400.0 316.0C427.8 314.5 466.7 311.2 500.0 313.0C533.3 314.8 566.7 319.7 600.0 327.0C633.3 334.3 672.2 347.7 700.0 357.0C727.8 366.3 744.8 373.3 767.0 383.0C789.2 392.7 810.8 404.0 833.0 415.0C855.2 426.0 880.0 437.5 900.0 449.0C920.0 460.5 935.2 471.2 953.0 484.0C970.8 496.8 989.2 512.0 1007.0 526.0C1024.8 540.0 1042.2 554.7 1060.0 568.0C1077.8 581.3 1096.2 592.7 1114.0 606.0C1131.8 619.3 1149.2 634.0 1167.0 648.0C1184.8 662.0 1203.2 677.2 1221.0 690.0C1238.8 702.8 1260.8 716.8 1274.0 725.0C1287.2 733.2 1284.5 731.0 1300.0 739.0C1315.5 747.0 1344.8 763.3 1367.0 773.0C1389.2 782.7 1410.0 791.0 1433.0 797.0C1456.0 803.0 1493.0 807.0 1505.0 809.0L1505.0 959.0C1487.5 956.0 1428.7 947.7 1400.0 941.0C1371.3 934.3 1355.2 927.7 1333.0 919.0C1310.8 910.3 1285.2 897.5 1267.0 889.0C1248.8 880.5 1240.0 876.0 1224.0 868.0C1208.0 860.0 1188.8 850.7 1171.0 841.0C1153.2 831.3 1134.8 821.5 1117.0 810.0C1099.2 798.5 1081.8 785.7 1064.0 772.0C1046.2 758.3 1027.8 743.3 1010.0 728.0C992.2 712.7 974.8 696.5 957.0 680.0C939.2 663.5 923.7 646.0 903.0 629.0C882.3 612.0 855.7 594.0 833.0 578.0C810.3 562.0 789.2 546.5 767.0 533.0C744.8 519.5 722.3 507.5 700.0 497.0C677.7 486.5 655.2 477.3 633.0 470.0C610.8 462.7 589.2 456.8 567.0 453.0C544.8 449.2 527.8 449.3 500.0 447.0C472.2 444.7 427.8 440.0 400.0 439.0C372.2 438.0 355.2 439.5 333.0 441.0C310.8 442.5 289.2 444.5 267.0 448.0C244.8 451.5 222.3 456.2 200.0 462.0C177.7 467.8 155.2 474.5 133.0 483.0C110.8 491.5 89.2 502.0 67.0 513.0C44.8 524.0 12.0 542.5 0.0 549.0C-12.0 555.5 -4.2 551.5 -5.0 552.0Z" fill="url(#gSponge)" filter="url(#nSoft)"/>
<g clip-path="url(#cSponge)"><path d="M500.0 447.0C511.2 448.0 544.8 449.2 567.0 453.0C589.2 456.8 610.8 462.7 633.0 470.0C655.2 477.3 677.7 486.5 700.0 497.0C722.3 507.5 744.8 519.5 767.0 533.0C789.2 546.5 810.3 562.0 833.0 578.0C855.7 594.0 882.3 612.0 903.0 629.0C923.7 646.0 939.2 663.5 957.0 680.0C974.8 696.5 992.2 712.7 1010.0 728.0C1027.8 743.3 1046.2 758.3 1064.0 772.0C1081.8 785.7 1099.2 798.5 1117.0 810.0C1134.8 821.5 1153.2 831.3 1171.0 841.0C1188.8 850.7 1208.0 860.0 1224.0 868.0C1240.0 876.0 1248.8 880.5 1267.0 889.0C1285.2 897.5 1310.8 910.3 1333.0 919.0C1355.2 927.7 1371.3 934.3 1400.0 941.0C1428.7 947.7 1487.5 956.0 1505.0 959.0" fill="none" stroke="url(#gGlow)" stroke-width="44" filter="url(#blur6)"/></g>
<path d="M-5.0 552.0C-4.2 551.5 -12.0 555.5 0.0 549.0C12.0 542.5 44.8 524.0 67.0 513.0C89.2 502.0 110.8 491.5 133.0 483.0C155.2 474.5 177.7 467.8 200.0 462.0C222.3 456.2 244.8 451.5 267.0 448.0C289.2 444.5 310.8 442.5 333.0 441.0C355.2 439.5 372.2 438.0 400.0 439.0C427.8 440.0 472.2 444.7 500.0 447.0C527.8 449.3 544.8 449.2 567.0 453.0C589.2 456.8 610.8 462.7 633.0 470.0C655.2 477.3 677.7 486.5 700.0 497.0C722.3 507.5 744.8 519.5 767.0 533.0C789.2 546.5 810.3 562.0 833.0 578.0C855.7 594.0 882.3 612.0 903.0 629.0C923.7 646.0 939.2 663.5 957.0 680.0C974.8 696.5 992.2 712.7 1010.0 728.0C1027.8 743.3 1046.2 758.3 1064.0 772.0C1081.8 785.7 1099.2 798.5 1117.0 810.0C1134.8 821.5 1153.2 831.3 1171.0 841.0C1188.8 850.7 1208.0 860.0 1224.0 868.0C1240.0 876.0 1248.8 880.5 1267.0 889.0C1285.2 897.5 1310.8 910.3 1333.0 919.0C1355.2 927.7 1371.3 934.3 1400.0 941.0C1428.7 947.7 1487.5 956.0 1505.0 959.0" fill="none" stroke="#363636" stroke-width="4"/>
<path d="M500.0 447.0C511.2 448.0 544.8 449.2 567.0 453.0C589.2 456.8 610.8 462.7 633.0 470.0C655.2 477.3 677.7 486.5 700.0 497.0C722.3 507.5 744.8 519.5 767.0 533.0C789.2 546.5 810.3 562.0 833.0 578.0C855.7 594.0 882.3 612.0 903.0 629.0C923.7 646.0 939.2 663.5 957.0 680.0C974.8 696.5 992.2 712.7 1010.0 728.0C1027.8 743.3 1046.2 758.3 1064.0 772.0C1081.8 785.7 1099.2 798.5 1117.0 810.0C1134.8 821.5 1153.2 831.3 1171.0 841.0C1188.8 850.7 1208.0 860.0 1224.0 868.0C1240.0 876.0 1248.8 880.5 1267.0 889.0C1285.2 897.5 1310.8 910.3 1333.0 919.0C1355.2 927.7 1371.3 934.3 1400.0 941.0C1428.7 947.7 1487.5 956.0 1505.0 959.0" fill="none" stroke="url(#gHl)" stroke-width="10"/>
<!-- cream fabric -->
<path d="M470.0 309.0C485.0 309.0 513.3 308.3 560.0 309.0C606.7 309.7 676.7 310.8 750.0 313.0C823.3 315.2 925.0 319.5 1000.0 322.0C1075.0 324.5 1150.0 325.8 1200.0 328.0C1250.0 330.2 1272.2 331.3 1300.0 335.0C1327.8 338.7 1344.8 342.0 1367.0 350.0C1389.2 358.0 1410.0 371.3 1433.0 383.0C1456.0 394.7 1493.0 413.8 1505.0 420.0L1505.0 809.0C1493.0 807.0 1456.0 803.0 1433.0 797.0C1410.0 791.0 1389.2 782.7 1367.0 773.0C1344.8 763.3 1315.5 747.0 1300.0 739.0C1284.5 731.0 1287.2 733.2 1274.0 725.0C1260.8 716.8 1238.8 702.8 1221.0 690.0C1203.2 677.2 1184.8 662.0 1167.0 648.0C1149.2 634.0 1131.8 619.3 1114.0 606.0C1096.2 592.7 1077.8 581.3 1060.0 568.0C1042.2 554.7 1024.8 540.0 1007.0 526.0C989.2 512.0 970.8 496.8 953.0 484.0C935.2 471.2 920.0 460.5 900.0 449.0C880.0 437.5 855.2 426.0 833.0 415.0C810.8 404.0 789.2 392.7 767.0 383.0C744.8 373.3 727.8 366.3 700.0 357.0C672.2 347.7 633.3 334.3 600.0 327.0C566.7 319.7 521.7 315.7 500.0 313.0C478.3 310.3 475.0 311.3 470.0 311.0Z" fill="url(#gCream)" filter="url(#nFine)"/>
<path d="M470.0 309.0C485.0 309.0 513.3 308.3 560.0 309.0C606.7 309.7 676.7 310.8 750.0 313.0C823.3 315.2 925.0 319.5 1000.0 322.0C1075.0 324.5 1150.0 325.8 1200.0 328.0C1250.0 330.2 1272.2 331.3 1300.0 335.0C1327.8 338.7 1344.8 342.0 1367.0 350.0C1389.2 358.0 1410.0 371.3 1433.0 383.0C1456.0 394.7 1493.0 413.8 1505.0 420.0L1505.0 809.0C1493.0 807.0 1456.0 803.0 1433.0 797.0C1410.0 791.0 1389.2 782.7 1367.0 773.0C1344.8 763.3 1315.5 747.0 1300.0 739.0C1284.5 731.0 1287.2 733.2 1274.0 725.0C1260.8 716.8 1238.8 702.8 1221.0 690.0C1203.2 677.2 1184.8 662.0 1167.0 648.0C1149.2 634.0 1131.8 619.3 1114.0 606.0C1096.2 592.7 1077.8 581.3 1060.0 568.0C1042.2 554.7 1024.8 540.0 1007.0 526.0C989.2 512.0 970.8 496.8 953.0 484.0C935.2 471.2 920.0 460.5 900.0 449.0C880.0 437.5 855.2 426.0 833.0 415.0C810.8 404.0 789.2 392.7 767.0 383.0C744.8 373.3 727.8 366.3 700.0 357.0C672.2 347.7 633.3 334.3 600.0 327.0C566.7 319.7 521.7 315.7 500.0 313.0C478.3 310.3 475.0 311.3 470.0 311.0Z" fill="url(#gCreamShade)"/>
<g clip-path="url(#cCream)">
<g filter="url(#blur1)">
<!-- blue motif -->
<g fill="#8b90d9" stroke="none">
  <path d="M703 313 C713 312 723 318 721 327 C719 335 707 337 697 334 C691 337 685 340 678 341 C690 335 700 328 703 313 Z"/>
  <ellipse cx="718" cy="350" rx="13" ry="6.5"/>
  <ellipse cx="802" cy="348.5" rx="21" ry="9.5"/>
  <ellipse cx="849" cy="376" rx="15.5" ry="10.5" transform="rotate(-8 849 376)"/>
  <path d="M830 318 C832 330 845 336 858 336 C872 336 884 329 886 318 Z"/>
  <path d="M906 430 C912 427 928 428 936 431 C936 440 928 447 918 446 C910 445 905 438 906 430 Z"/>
</g>
<g fill="none" stroke="#8b90d9" stroke-width="6.2" stroke-linecap="round" stroke-linejoin="round">
  <path d="M794 317 C806 324 820 325 833 322"/>
  <path d="M906 321 C903 330 911 335 925 333 C940 331 960 324 962 333 C964 343 935 350 912 358 C893 365 885 373 893 381 C903 390 940 395 955 411 C966 424 955 438 928 449"/>
</g>
<g fill="#a9a3c4"><circle cx="912" cy="412" r="2"/><circle cx="932" cy="409" r="2"/><circle cx="936" cy="420" r="2"/></g>

<!-- bones -->
<g fill="#d9cebb" stroke="#d9cebb">
  <ellipse cx="1030" cy="367" rx="22" ry="12" stroke="none"/><ellipse cx="1021" cy="389" rx="18" ry="11" stroke="none"/>
  <ellipse cx="1143" cy="381" rx="16" ry="11.5" stroke="none"/><ellipse cx="1133" cy="404" rx="17" ry="11" stroke="none"/>
  <path d="M1030 378 L1136 393" stroke-width="18" fill="none"/>
  <circle cx="1069" cy="486" r="12" stroke="none"/><circle cx="1104" cy="488" r="13" stroke="none"/>
  <circle cx="1077" cy="544" r="13" stroke="none"/><circle cx="1108" cy="540" r="13" stroke="none"/>
  <path d="M1088 494 L1092 538" stroke-width="27" fill="none"/>
</g>

<!-- pink flower -->
<g fill="none" stroke="#e9b0c8" stroke-width="6.2" stroke-linecap="round" stroke-linejoin="round">
  <path d="M1066 324 C1072 331 1088 332 1096 325"/>
  <path d="M1199 336 C1199 352 1203 368 1213 369 C1228 370 1237 342 1247 342 C1257 343 1258 371 1271 374 C1286 377 1295 352 1290 332"/>
</g>
<path d="M1194 326 L1224 328 C1224 338 1214 346 1204 346 C1197 346 1194 336 1194 326 Z" fill="#e9b0c8"/>

<!-- giraffe -->
<g fill="none" stroke="#f1bd78" stroke-width="6.9" stroke-linecap="round" stroke-linejoin="round">
  <path d="M1130 605 L1272 521 C1280 517 1286 511 1284 500 C1281 485 1274 462 1280 452 C1286 443 1302 441 1310 447 C1318 454 1318 470 1326 473 C1334 475 1338 462 1346 455 C1355 447 1368 448 1371 458 C1373 466 1370 476 1360 484 C1366 492 1378 503 1394 509 C1408 514 1424 516 1440 514 C1462 510 1480 500 1503 490"/>
  <path d="M1138 610 C1168 598 1196 582 1222 566 C1245 554 1270 549 1296 545 C1310 548 1322 556 1340 565 C1356 573 1366 588 1374 604 C1372 620 1364 632 1356 646 C1350 658 1338 668 1340 678 C1342 688 1360 690 1380 684 C1394 678 1402 666 1420 662 C1445 657 1475 660 1503 663"/>
  <path d="M1431 615 C1436 624 1452 627 1465 618" stroke-width="5"/>
  <path d="M1370 650 L1378 660 L1386 652 M1378 660 L1394 656" stroke-width="3.5"/>
</g>
<g fill="#f1bd78">
  <ellipse cx="1287" cy="510" rx="10" ry="9"/>
  <ellipse cx="1359" cy="485" rx="11" ry="10"/>
  <ellipse cx="1452" cy="512" rx="27" ry="7.5" transform="rotate(-14 1452 512)"/>
  <ellipse cx="1297" cy="544" rx="17" ry="10"/>
  <ellipse cx="1378" cy="607" rx="12" ry="14"/>
  <ellipse cx="1382" cy="682" rx="22" ry="9" transform="rotate(-12 1382 682)"/>
  <ellipse cx="1392" cy="542" rx="21" ry="10"/>
  <circle cx="1449" cy="574" r="15"/>
  <circle cx="1503" cy="571" r="13"/>
</g>

<!-- purple -->
<path d="M1415 779 L1442 749 C1450 746 1460 748 1464 753 L1467 760 L1428 783 Z" fill="#b9a1cc"/>
<path d="M1447 788 L1468 778 L1472 783 L1460 793 Z" fill="#b9a1cc"/>
<path d="M1466 760 C1474 756 1486 758 1491 767 C1494 778 1488 788 1478 795" fill="none" stroke="#b9a1cc" stroke-width="6.5" stroke-linecap="round"/>
</g>

<path d="M470.0 311.0C475.0 311.3 478.3 310.3 500.0 313.0C521.7 315.7 566.7 319.7 600.0 327.0C633.3 334.3 672.2 347.7 700.0 357.0C727.8 366.3 744.8 373.3 767.0 383.0C789.2 392.7 810.8 404.0 833.0 415.0C855.2 426.0 880.0 437.5 900.0 449.0C920.0 460.5 935.2 471.2 953.0 484.0C970.8 496.8 989.2 512.0 1007.0 526.0C1024.8 540.0 1042.2 554.7 1060.0 568.0C1077.8 581.3 1096.2 592.7 1114.0 606.0C1131.8 619.3 1149.2 634.0 1167.0 648.0C1184.8 662.0 1203.2 677.2 1221.0 690.0C1238.8 702.8 1260.8 716.8 1274.0 725.0C1287.2 733.2 1284.5 731.0 1300.0 739.0C1315.5 747.0 1344.8 763.3 1367.0 773.0C1389.2 782.7 1410.0 791.0 1433.0 797.0C1456.0 803.0 1493.0 807.0 1505.0 809.0" fill="none" stroke="url(#gWedge)" stroke-width="27"/>
<path d="M470.0 311.0C475.0 311.3 478.3 310.3 500.0 313.0C521.7 315.7 566.7 319.7 600.0 327.0C633.3 334.3 672.2 347.7 700.0 357.0C727.8 366.3 744.8 373.3 767.0 383.0C789.2 392.7 810.8 404.0 833.0 415.0C855.2 426.0 880.0 437.5 900.0 449.0C920.0 460.5 935.2 471.2 953.0 484.0C970.8 496.8 989.2 512.0 1007.0 526.0C1024.8 540.0 1042.2 554.7 1060.0 568.0C1077.8 581.3 1096.2 592.7 1114.0 606.0C1131.8 619.3 1149.2 634.0 1167.0 648.0C1184.8 662.0 1203.2 677.2 1221.0 690.0C1238.8 702.8 1260.8 716.8 1274.0 725.0C1287.2 733.2 1284.5 731.0 1300.0 739.0C1315.5 747.0 1344.8 763.3 1367.0 773.0C1389.2 782.7 1410.0 791.0 1433.0 797.0C1456.0 803.0 1493.0 807.0 1505.0 809.0" fill="none" stroke="#fdfcf8" stroke-width="13"/>
</g>

<!-- callout lines & dots -->
<g stroke="#3cbab4" stroke-width="3.7" stroke-dasharray="14.8 7.9" fill="none">
  <path d="M398 192.4 V440" stroke-dashoffset="9.5"/><path d="M1163 168.5 V322"/><path d="M270.3 591.8 V1126"/><path d="M890 1036 V1232"/>
</g>
<g>
  <circle cx="398" cy="440.5" r="27.8" fill="#2fc6b6" fill-opacity="0.3"/><circle cx="398" cy="440.5" r="22.5" fill="#2fc6b6" fill-opacity="0.28"/><circle cx="398" cy="440.5" r="17.9" fill="#30c8ba"/>
  <circle cx="270.4" cy="592.5" r="28" fill="#2fc6b6" fill-opacity="0.3"/><circle cx="270.4" cy="592.5" r="22.5" fill="#2fc6b6" fill-opacity="0.28"/><circle cx="270.4" cy="592.5" r="17.9" fill="#30c8ba"/>
  <circle cx="889.3" cy="1034.5" r="28" fill="#2fc6b6" fill-opacity="0.3"/><circle cx="889.3" cy="1034.5" r="22.5" fill="#2fc6b6" fill-opacity="0.28"/><circle cx="889.3" cy="1034.5" r="17.9" fill="#30c8ba"/>
  <circle cx="1163" cy="325" r="28" fill="#2fc6b6" fill-opacity="0.3"/><circle cx="1163" cy="325" r="22.5" fill="#2fc6b6" fill-opacity="0.28"/><circle cx="1163" cy="325" r="17.9" fill="#24c0b0"/>
</g>
</svg>

<div class="pill" style="left:134px;top:98px;width:528px;height:91px;"><span style="left:23.5px;top:18px;">Regenerated sponge layer</span></div>
<div class="pill" style="left:884px;top:71px;width:559px;height:90px;"><span style="left:20px;top:17px;">Nappa leather fabric surface</span></div>
<div class="pill" style="left:42px;top:1129px;width:457px;height:91px;"><span style="left:24px;top:17px;font-size:39.4px">Foam absorbent layer</span></div>
<div class="pill" style="left:651px;top:1235px;width:477px;height:91px;"><span style="left:22px;top:17px;font-size:39.3px">Non-slip rubber bottom</span></div>

<div class="sub" style="left:252px;top:58px;">Soft and comfortable</div>
<div class="sub" style="left:897px;top:0px;">Rapid penetration of mois-ture does<br>not accumulate</div>
<div class="sub" style="left:56px;top:1233px;">Absorb instantly and evaporate<br>quickly</div>
<div class="sub" style="left:678px;top:1342px;">Anti-slip texture for firm grip</div>
</body></html>
